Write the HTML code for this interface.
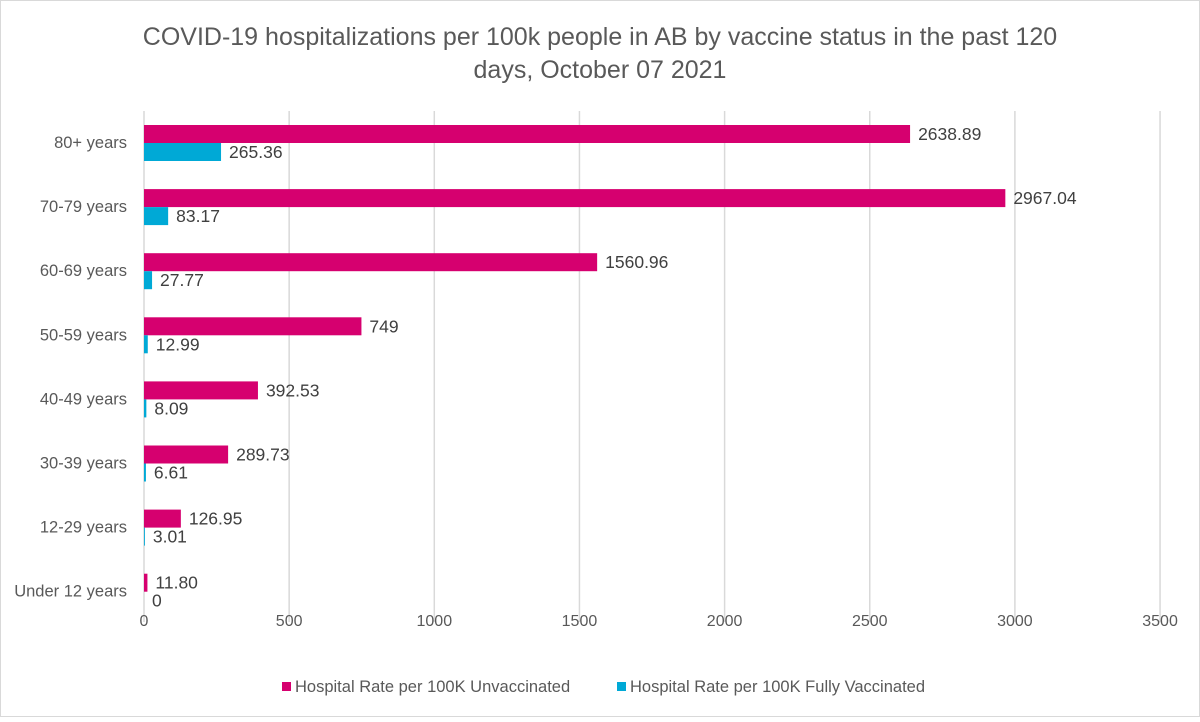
<!DOCTYPE html>
<html><head><meta charset="utf-8"><style>
body{margin:0;background:#fff;font-family:"Liberation Sans",sans-serif;}
svg text{font-family:"Liberation Sans",sans-serif;}
</style></head><body>
<svg id="chart" width="1200" height="717">
<rect x="0.5" y="0.5" width="1199" height="716" fill="#fff" stroke="#d9d9d9"/>
<text x="600" y="45" text-anchor="middle" font-size="25" fill="#595959">COVID-19 hospitalizations per 100k people in AB by vaccine status in the past 120</text>
<text x="600" y="78" text-anchor="middle" font-size="25" fill="#595959">days, October 07 2021</text>
<g id="grid"></g><g id="bars"></g><g id="labels"></g>
<g>
<rect x="282" y="682" width="9" height="9" fill="#d6006f"/>
<text x="295" y="692" font-size="16.5" fill="#595959">Hospital Rate per 100K Unvaccinated</text>
<rect x="617" y="682" width="9" height="9" fill="#00a9d6"/>
<text x="630" y="692" font-size="16.5" fill="#595959">Hospital Rate per 100K Fully Vaccinated</text>
</g>
</svg>
<script>
const categories=["80+ years","70-79 years","60-69 years","50-59 years","40-49 years","30-39 years","12-29 years","Under 12 years"];
const unvaccinated=[2638.89,2967.04,1560.96,749,392.53,289.73,126.95,11.80];
const vaccinated=[265.36,83.17,27.77,12.99,8.09,6.61,3.01,0];
const unvaccLabels=["2638.89","2967.04","1560.96","749","392.53","289.73","126.95","11.80"];
const vaccLabels=["265.36","83.17","27.77","12.99","8.09","6.61","3.01","0"];
const ticks=[0,500,1000,1500,2000,2500,3000,3500];
const NS="http://www.w3.org/2000/svg";
const x0=144,scale=0.2903,top0=143,step=64.1;
const X=v=>x0+v*scale;
const Y=i=>top0+i*step;
function mk(t,a,p){const e=document.createElementNS(NS,t);for(const k in a)e.setAttribute(k,a[k]);p.appendChild(e);return e;}
const grid=document.getElementById('grid'),bars=document.getElementById('bars'),labels=document.getElementById('labels');
ticks.forEach(t=>{
 const l=mk('line',{x1:X(t),x2:X(t),y1:111,y2:622,stroke:'#d9d9d9','stroke-width':1.5},grid);
 
 
 const tx=mk('text',{x:X(t),y:626,'text-anchor':'middle','font-size':16,fill:'#595959'},grid);
 tx.textContent=t;
 
 
});
categories.forEach((c,i)=>{
 const y=Y(i);
 const ct=mk('text',{x:127,y:y+5,'text-anchor':'end','font-size':16.5,fill:'#595959'},labels);
 ct.textContent=c;
 
 
 const b1=mk('rect',{x:x0,y:y-18,width:Math.max(unvaccinated[i]*scale,0),height:18,fill:'#d6006f'},bars);
 
 
 const b2=mk('rect',{x:x0,y:y,width:Math.max(vaccinated[i]*scale,0),height:18,fill:'#00a9d6'},bars);
 
 
 const l1=mk('text',{x:X(unvaccinated[i])+8,y:y-3,'font-size':17.5,fill:'#404040'},labels);
 l1.textContent=unvaccLabels[i];
 
 
 const l2=mk('text',{x:X(vaccinated[i])+8,y:y+15,'font-size':17.5,fill:'#404040'},labels);
 l2.textContent=vaccLabels[i];
 
 
});
</script>
</body></html>
